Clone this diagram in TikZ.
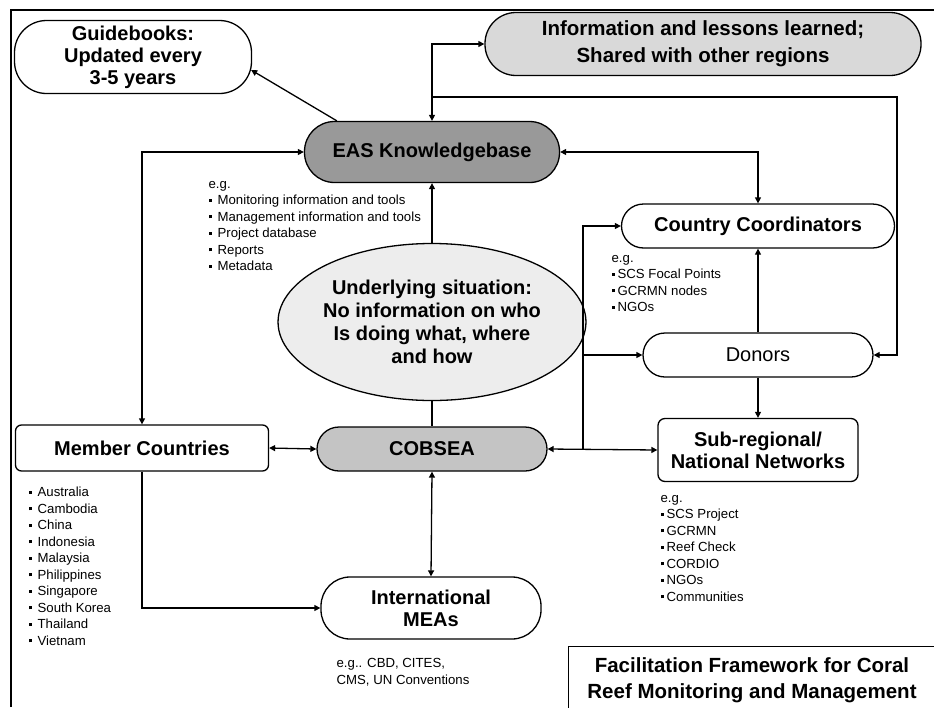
\documentclass[tikz,border=0pt]{standalone}
\usepackage{fontspec}
\setmainfont{Liberation Sans}
\usetikzlibrary{arrows.meta,calc,shapes.geometric}
\newcommand{\sqb}{\rule[0.22em]{3pt}{3pt}\hspace{6pt}}
\newcommand{\sqc}{\rule[0.22em]{3pt}{3pt}\hspace{3pt}}
\definecolor{easfill}{gray}{0.60}
\definecolor{infofill}{gray}{0.85}
\definecolor{cobfill}{gray}{0.77}
\definecolor{undfill}{gray}{0.93}
\tikzset{
  every path/.style={line width=1.3pt},
  box/.style={draw, line width=1.3pt, align=center, inner sep=0pt, font=\fontsize{20}{22}\selectfont\bfseries},
  stad/.style={box, rounded corners=#1},
  arr/.style={-{Triangle[length=6pt,width=6pt]}},
  both/.style={{Triangle[length=6pt,width=6pt]}-{Triangle[length=6pt,width=6pt]}},
  note/.style={align=left, inner sep=0pt, anchor=north west, font=\fontsize{13.2}{16.5}\selectfont},
}
\begin{document}
\begin{tikzpicture}[x=1pt,y=-1pt]
\useasboundingbox (0,0) rectangle (934,707);
% outer frame
\draw (11,707) -- (11,10) -- (934,10);
% nodes
\node[stad=32, minimum width=237, minimum height=73] (guide) at (133,57) {\raisebox{-2pt}{\parbox{200pt}{\centering Guidebooks:\\Updated every\\3-5 years}}};
\node[stad=31, fill=infofill, minimum width=436, minimum height=63, font=\fontsize{20.5}{27}\selectfont\bfseries] (info) at (703,44) {\raisebox{-2pt}{\parbox{420pt}{\centering Information and lessons learned;\\Shared with other regions}}};
\node[stad=30, fill=easfill, minimum width=255, minimum height=61] (eas) at (432,152) {EAS Knowledgebase};
\node[stad=22, minimum width=273, minimum height=44] (cc) at (758,226) {Country Coordinators};
\node[draw, ellipse, fill=undfill, line width=1.3pt, minimum width=238, minimum height=157, inner sep=0pt, align=center, font=\fontsize{20}{23}\selectfont\bfseries] (und) at (432,322) {Underlying situation:\\No information on who\\Is doing what, where\\and how};
\node[stad=6, minimum width=253, minimum height=46] (member) at (142,448) {Member Countries};
\node[stad=22, fill=cobfill, minimum width=230, minimum height=44] (cobsea) at (432,449) {COBSEA};
\node[stad=22, minimum width=230, minimum height=44, font=\fontsize{20}{22}\selectfont] (donors) at (758,355) {Donors};
\node[stad=7, minimum width=200, minimum height=63] (sub) at (758,450) {Sub-regional/\\National Networks};
\node[stad=29, minimum width=220, minimum height=62] (meas) at (431,608) {International\\MEAs};
\node[draw, line width=1.3pt, minimum width=370, minimum height=70, anchor=north west, inner sep=0pt] (titlebox) at (568,646) {};
\node[align=center, inner sep=0pt, font=\fontsize{20.5}{26}\selectfont\bfseries] (title) at (752,680) {Facilitation Framework for Coral\\Reef Monitoring and Management};
% notes
\node[note] (easnote) at (208,180.5) {e.g.\\\sqb Monitoring information and tools\\\sqb Management information and tools\\\sqb Project database\\\sqb Reports\\\sqb Metadata};
\node[note] (ccnote) at (611,254.5) {e.g.\\\sqc SCS Focal Points\\\sqc GCRMN nodes\\\sqc NGOs};
\node[note] (memnote) at (28,486.5) {\sqb Australia\\\sqb Cambodia\\\sqb China\\\sqb Indonesia\\\sqb Malaysia\\\sqb Philippines\\\sqb Singapore\\\sqb South Korea\\\sqb Thailand\\\sqb Vietnam};
\node[note] (subnote) at (660,494.5) {e.g.\\\sqc SCS Project\\\sqc GCRMN\\\sqc Reef Check\\\sqc CORDIO\\\sqc NGOs\\\sqc Communities};
\node[note] (measnote) at (336,658) {e.g.. CBD, CITES,\\CMS, UN Conventions};
% coordinates
\coordinate (j1) at (432,97);
\coordinate (r1) at (897,97);
\coordinate (j2) at (583,449);
% connectors
\draw[arr] ($(eas.north west)+(33,0)$) -- ($(guide.east)+(-1,13)$);
\draw[both] (eas.north) |- (info.west);
\draw[arr] (j1) -- (r1) |- (donors.east);
\draw[both] (eas.east) -| (cc.north);
\draw[both] (eas.west) -| (member.north);
\draw[arr] (und.north) -- (eas.south);
\draw (und.south) -- (cobsea.north);
\draw[both] (member.east) -- (cobsea.west);
\draw[both] (cobsea.south) -- (meas.north);
\draw[arr] (member.south) |- (meas.west);
\draw[both] (cobsea.east) -- (sub.west);
\draw[arr] (j2) |- (donors.west);
\draw[arr] (j2) |- (cc.west);
\draw[arr] (donors.north) -- (cc.south);
\draw[arr] (donors.south) -- (sub.north);
\end{tikzpicture}
\end{document}
